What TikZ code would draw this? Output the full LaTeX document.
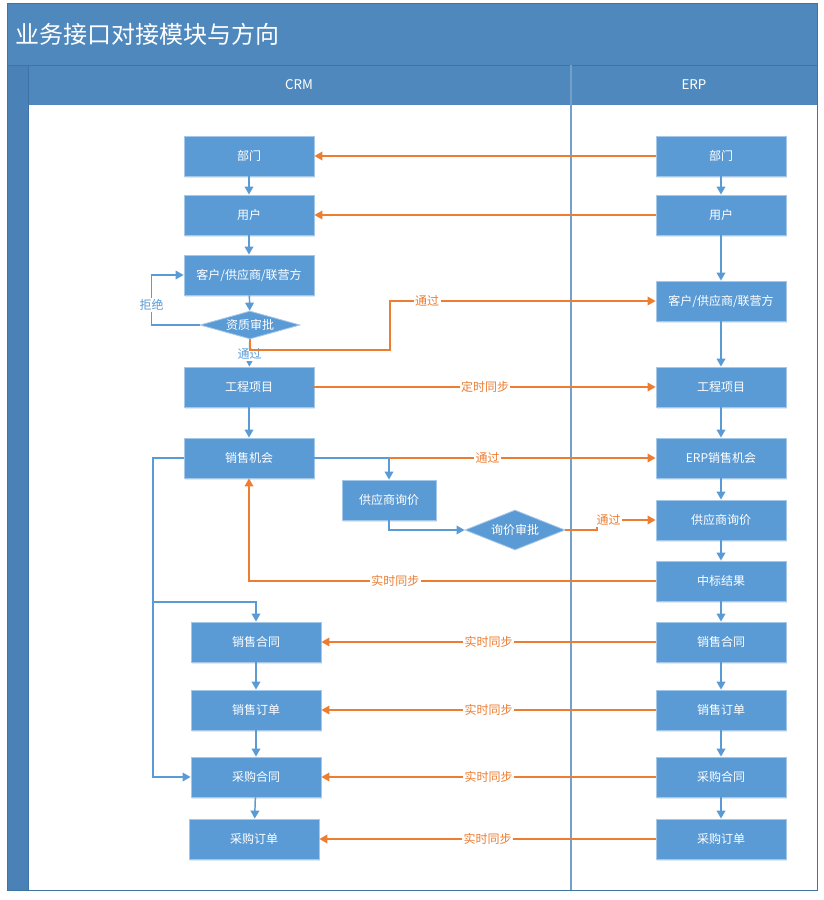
\documentclass[tikz,border=0pt]{standalone}
\usepackage{fontspec}
\setmainfont{Noto Sans CJK SC}
\usepackage{tikz}
\usetikzlibrary{arrows.meta}
\usetikzlibrary{shapes.geometric,shadows}
\definecolor{laneblue}{HTML}{4F88BD}
\definecolor{bandblue}{HTML}{4A82B8}
\definecolor{boxblue}{HTML}{5B9BD5}
\definecolor{linkorange}{HTML}{ED7D31}
\definecolor{rimblue}{HTML}{3F73A6}
\tikzset{>={Triangle[width=6.5pt,length=6pt]},
  procbox/.style={rectangle,fill=boxblue,draw=boxblue!55!white,line width=.6pt,
    text=white,font=\fontsize{9}{11}\selectfont,minimum width=97.5pt,minimum height=30pt,
    drop shadow={shadow xshift=.8pt,shadow yshift=-1.2pt,fill=boxblue!40,opacity=.5}},
  checkbox/.style={diamond,fill=boxblue,draw=boxblue!55!white,line width=.6pt,
    text=white,font=\fontsize{9}{11}\selectfont,inner sep=0pt},
  blueline/.style={draw=boxblue,line width=1.1pt},
  orangeline/.style={draw=linkorange,line width=1.1pt},
  onorange/.style={fill=white,text=linkorange,inner sep=1pt,font=\fontsize{9}{11}\selectfont},
  onblue/.style={fill=white,text=boxblue,inner sep=1pt,font=\fontsize{9}{11}\selectfont}}

\begin{document}
\begin{tikzpicture}[x=0.75pt,y=-0.75pt]
  \useasboundingbox (0,0) rectangle (824,900);
  % swimlane frame
  \fill[laneblue] (7,3) rectangle (817,105);
  \fill[bandblue] (7,65) rectangle (28,890);
  \fill[white] (28,105) rectangle (817,890);
  \draw[rimblue,line width=.6pt] (7,3) rectangle (817,890);
  \draw[rimblue,line width=.6pt] (7,65) -- (817,65);
  \draw[rimblue,line width=.6pt] (28,65) -- (28,890);
  \draw[laneblue!80,line width=.9pt] (571,65) -- (571,890);
  \node[anchor=west,text=white,font=\fontsize{18}{20}\selectfont] (title) at (11,34) {业务接口对接模块与方向};
  \node[text=white,font=\fontsize{10}{12}\selectfont] (crm-head) at (299,85) {CRM};
  \node[text=white,font=\fontsize{10}{12}\selectfont] (erp-head) at (694,85) {ERP};

  % CRM lane
  \node[procbox] (crm-dept) at (249,156) {部门};
  \node[procbox] (crm-user) at (249,215) {用户};
  \node[procbox] (crm-cust) at (249,275) {客户/供应商/联营方};
  \node[checkbox,shape aspect=3.6,minimum width=75pt,minimum height=21pt] (crm-check) at (250,325) {资质审批};
  \node[procbox] (crm-proj) at (249,387) {工程项目};
  \node[procbox] (crm-opp) at (249,458) {销售机会};
  \node[procbox,minimum width=70.5pt] (crm-quote) at (389,500) {供应商询价};
  \node[checkbox,shape aspect=2.5,minimum width=75pt,minimum height=30pt] (crm-qcheck) at (515,530) {询价审批};
  \node[procbox] (crm-sc) at (256,642) {销售合同};
  \node[procbox] (crm-so) at (256,710) {销售订单};
  \node[procbox] (crm-pc) at (256,777) {采购合同};
  \node[procbox] (crm-po) at (254,839) {采购订单};

  % ERP lane
  \node[procbox] (erp-dept) at (721,156) {部门};
  \node[procbox] (erp-user) at (721,215) {用户};
  \node[procbox] (erp-cust) at (721,301) {客户/供应商/联营方};
  \node[procbox] (erp-proj) at (721,387) {工程项目};
  \node[procbox] (erp-opp) at (721,458) {ERP销售机会};
  \node[procbox] (erp-quote) at (721,520) {供应商询价};
  \node[procbox] (erp-bid) at (721,581) {中标结果};
  \node[procbox] (erp-sc) at (721,642) {销售合同};
  \node[procbox] (erp-so) at (721,710) {销售订单};
  \node[procbox] (erp-pc) at (721,777) {采购合同};
  \node[procbox] (erp-po) at (721,839) {采购订单};

  \coordinate (pass-bend) at (390,350);
  \coordinate (qpass-bend) at (597,530);
  \coordinate (opp-split) at (153,602);

  % flow inside the lanes
  \draw[blueline,->] (crm-dept) -- (crm-user);
  \draw[blueline,->] (crm-user) -- (crm-cust);
  \draw[blueline,->] (crm-cust) -- (crm-check);
  \draw[blueline,->] (crm-check.west) -- ++(-48,0) |- node[onblue,pos=.2] {拒绝} (crm-cust.west);
  \draw[blueline,->] (crm-check) -- node[onblue,pos=.55] {通过} (crm-proj);
  \draw[blueline,->] (crm-proj) -- (crm-opp);
  \draw[blueline,->] (crm-opp.east) -| (crm-quote.north);
  \draw[blueline,->] (crm-quote.south) |- (crm-qcheck.west);
  \draw[blueline,->] (crm-opp.west) -| (opp-split) -| (crm-sc.north);
  \draw[blueline,->] (opp-split) |- (crm-pc.west);
  \draw[blueline,->] (crm-sc) -- (crm-so);
  \draw[blueline,->] (crm-so) -- (crm-pc);
  \draw[blueline,->] (crm-pc) -- (crm-po);

  \draw[blueline,->] (erp-dept) -- (erp-user);
  \draw[blueline,->] (erp-user) -- (erp-cust);
  \draw[blueline,->] (erp-cust) -- (erp-proj);
  \draw[blueline,->] (erp-proj) -- (erp-opp);
  \draw[blueline,->] (erp-opp) -- (erp-quote);
  \draw[blueline,->] (erp-quote) -- (erp-bid);
  \draw[blueline,->] (erp-bid) -- (erp-sc);
  \draw[blueline,->] (erp-sc) -- (erp-so);
  \draw[blueline,->] (erp-so) -- (erp-pc);
  \draw[blueline,->] (erp-pc) -- (erp-po);

  % interface between CRM and ERP
  \draw[orangeline,->] (erp-dept) -- (crm-dept);
  \draw[orangeline,->] (erp-user) -- (crm-user);
  \draw[orangeline,->] (crm-check.south) |- (pass-bend) |- node[onorange,pos=.57] {通过} (erp-cust.west);
  \draw[orangeline,->] (crm-proj) -- node[onorange] {定时同步} (erp-proj);
  \draw[orangeline,->] (crm-quote.north |- crm-opp.east) -- node[onorange,pos=.37] {通过} (erp-opp.west);
  \draw[orangeline,->] (crm-qcheck.east) -- (qpass-bend) |- node[onorange,pos=.6] {通过} (erp-quote.west);
  \draw[orangeline,->] (erp-bid.west) -| node[onorange,pos=.32] {实时同步} (crm-opp.south);
  \draw[orangeline,->] (erp-sc) -- node[onorange] {实时同步} (crm-sc);
  \draw[orangeline,->] (erp-so) -- node[onorange] {实时同步} (crm-so);
  \draw[orangeline,->] (erp-pc) -- node[onorange] {实时同步} (crm-pc);
  \draw[orangeline,->] (erp-po) -- node[onorange] {实时同步} (crm-po);
\end{tikzpicture}
\end{document}
